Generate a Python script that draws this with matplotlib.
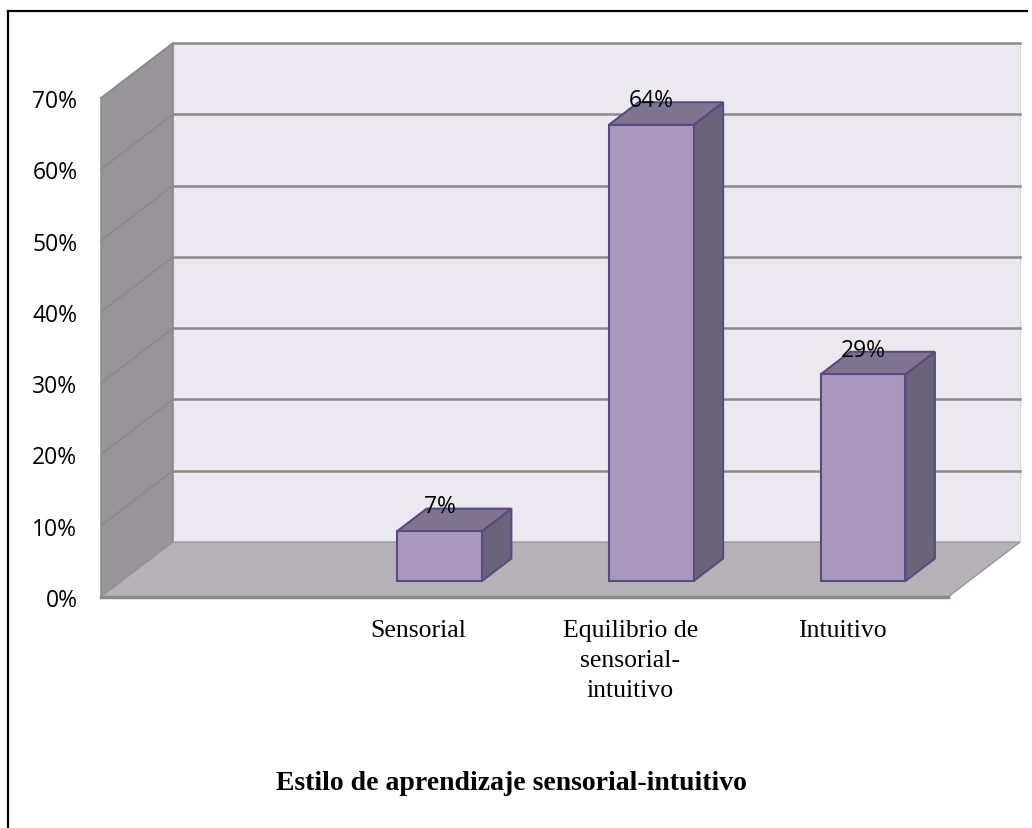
import numpy as np
import matplotlib
matplotlib.use("Agg")
import matplotlib.pyplot as plt
from matplotlib.patches import Polygon
from matplotlib.lines import Line2D

# data (first category is empty in the original chart)
categories = ["", "Sensorial", "Equilibrio de\nsensorial-\nintuitivo", "Intuitivo"]
values = [np.nan, 7, 64, 29]
yticks = [0, 10, 20, 30, 40, 50, 60, 70]
title = "Estilo de aprendizaje sensorial-intuitivo"

# fake 3d depth (in data units: categories / percent)
DX, DY = 0.34, 7.71
d0, dd = 0.29, 0.41
bw = 0.40

wall_c = "#EBE8F0"
side_c = "#979599"
floor_c = "#B5B1B6"
grid_c = "#8A8A8A"
front_c = "#A898BE"
top_c = "#7F7490"
right_c = "#6B6379"
edge_c = "#5B4A80"

fig = plt.figure(figsize=(10.32, 8.29), dpi=100)
ax = fig.add_axes([101/1032, (829-598)/829, 847/1032, 499/829])
n = len(categories)
ymax = yticks[-1]
ax.set_xlim(0, n)
ax.set_ylim(0, ymax)
for s in ax.spines.values():
    s.set_visible(False)

def poly(pts, fc, ec="none", lw=0, z=1):
    ax.add_patch(Polygon(pts, closed=True, facecolor=fc, edgecolor=ec,
                         linewidth=lw, clip_on=False, zorder=z, joinstyle="miter"))

# walls and floor
poly([(DX, DY), (n+DX, DY), (n+DX, ymax+DY), (DX, ymax+DY)], wall_c, "#D8D6DC", 0.8, 1)
poly([(0, 0), (DX, DY), (DX, ymax+DY), (0, ymax)], side_c, "#858387", 1.0, 1)
poly([(0, 0), (n, 0), (n+DX, DY), (DX, DY)], floor_c, "#9A979C", 1.0, 2)
ax.plot([0, n], [0, 0], color=grid_c, lw=2.5, clip_on=False, zorder=3)

for v in yticks[1:]:
    ax.plot([DX, n+DX], [v+DY, v+DY], color=grid_c, lw=1.8, clip_on=False, zorder=2)
    ax.plot([0, DX], [v, v+DY], color=grid_c, lw=1.2, clip_on=False, zorder=2)

# bars
for i, v in enumerate(values):
    if np.isnan(v):
        continue
    x0 = i + 0.5 - bw/2 + d0*DX
    x1 = x0 + bw
    yb = d0*DY
    yt = v + yb
    ox, oy = dd*DX, dd*DY
    poly([(x1, yb), (x1+ox, yb+oy), (x1+ox, yt+oy), (x1, yt)], right_c, edge_c, 1.5, 5)
    poly([(x0, yt), (x1, yt), (x1+ox, yt+oy), (x0+ox, yt+oy)], top_c, edge_c, 1.5, 5)
    poly([(x0, yb), (x1, yb), (x1, yt), (x0, yt)], front_c, edge_c, 1.5, 6)
    ax.text(x0 + bw/2, yt + oy + 0.3, f"{v:.0f}%", ha="center", va="center",
            fontsize=16.5, family="Open Sans", zorder=7)

ax.set_yticks(yticks)
ax.set_yticklabels([f"{v}%" for v in yticks], fontsize=16.5, family="Open Sans")
ax.set_xticks(np.arange(n) + 0.5)
ax.set_xticklabels(categories, fontsize=18.5, family="Liberation Serif", linespacing=1.45)
ax.tick_params(axis="y", length=0, pad=17)
ax.tick_params(axis="x", length=0, pad=16)

fig.text(511/1032, 1 - 790/829, title, ha="center", va="baseline",
         fontsize=20, fontweight="bold", family="Liberation Serif")

# outer frame (left and top edges visible)
fx, fy = 8/1032, 1 - 12/829
fig.add_artist(Line2D([fx, fx], [0, fy], color="black", lw=1.6, transform=fig.transFigure))
fig.add_artist(Line2D([fx, 1027/1032], [fy, fy], color="black", lw=1.6, transform=fig.transFigure))

fig.savefig("out.png", dpi=100)
